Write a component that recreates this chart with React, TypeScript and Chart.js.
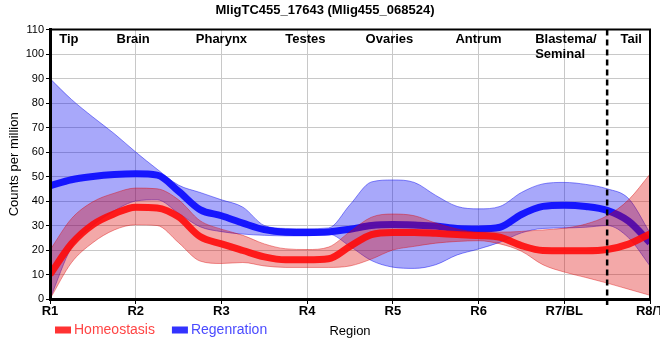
import React, { useEffect, useRef } from 'react';
import { Chart, registerables } from 'chart.js';

Chart.register(...registerables);

const FONT = '"Liberation Sans", Arial, sans-serif';

const chartTitle = 'MligTC455_17643 (Mlig455_068524)';
const xTickLabels = ['R1', 'R2', 'R3', 'R4', 'R5', 'R6', 'R7/BL', 'R8/T'];
const yAxisTitle = 'Counts per million';
const xAxisTitle = 'Region';

// positions along the body (0 = R1 ... 7 = R8/T) where values were read
const samplePositions = [0, 0.25, 0.5, 0.75, 1, 1.25, 1.5, 1.75, 2, 2.25, 2.5, 2.75, 3, 3.25, 3.5, 3.75, 4, 4.25, 4.5, 4.75, 5, 5.25, 5.5, 5.75, 6, 6.25, 6.5, 6.75, 7];

const homeoMean = [10, 22.5, 30.4, 34.8, 37.5, 37.2, 33.5, 25.5, 22.5, 19.8, 17.2, 16, 16, 16.4, 21.5, 26.3, 27.2, 27.2, 26.8, 26.3, 25.9, 25.2, 21.8, 19.8, 19.7, 19.7, 20.2, 22.4, 26.6];
const homeoUpper = [20, 32.8, 39.7, 43.2, 45.3, 45, 40.5, 32, 28.5, 26, 22.5, 20.5, 20.2, 21.2, 27.5, 33.4, 34.7, 34, 31, 28.6, 27.3, 27.3, 27.6, 28.2, 28.9, 30.6, 34, 40.5, 51];
const homeoLower = [0, 14.8, 23, 28.2, 30.3, 30, 23, 15.5, 14.5, 14.9, 13.5, 12.9, 12.9, 12.9, 13.5, 16.3, 20, 21.5, 22.8, 23.5, 23.8, 22.5, 19.5, 14, 11, 8.8, 6.5, 4, 1.5];

const regenMean = [46.2, 48.7, 50.0, 50.8, 51.1, 50.6, 44.0, 36.5, 34.0, 31.0, 28.3, 27.3, 27.2, 27.4, 28.5, 30.0, 30.4, 30.2, 29.8, 28.8, 28.6, 29.3, 34.5, 37.8, 38.3, 37.8, 36.2, 31.8, 23.0];
const regenUpper = [90, 81.5, 74.3, 67.5, 60, 53, 46.5, 43.5, 40.5, 37.5, 30, 28.8, 28.7, 29, 38.5, 47.8, 48.6, 47.6, 42.3, 37.8, 36.8, 37.8, 43.5, 47, 47.6, 46.8, 45, 41, 27];
const regenLower = [0, 21, 30, 36, 40, 40.5, 35, 29.5, 27.5, 26.5, 26, 25.8, 25.8, 26.5, 21.5, 15.7, 13, 12.5, 14, 18, 20.4, 23.2, 27, 28.8, 29, 29.3, 30, 25, 13.5];

const regionNames = ['Tip', 'Brain', 'Pharynx', 'Testes', 'Ovaries', 'Antrum', 'Blastema/\nSeminal', 'Tail'];
const regionAnchors = [0.22, 0.97, 2.0, 2.98, 3.96, 5.0, 5.66, 6.78];
const tailBoundary = 6.5;

const legendItems = [
  { label: 'Homeostasis', box: '#ff3333', text: '#ff4545' },
  { label: 'Regenration', box: '#3333ff', text: '#4a4aff' },
];

const pts = (arr: number[]) => samplePositions.map((x, i) => ({ x, y: arr[i] }));

const overlayPlugin = {
  id: 'overlay',
  afterDatasetsDraw(chart: any) {
    const { ctx, chartArea: a, scales } = chart;
    const x = scales.x;
    ctx.save();
    ctx.strokeStyle = '#000';
    ctx.lineWidth = 2;
    ctx.beginPath();
    ctx.moveTo(a.left, a.top);
    ctx.lineTo(a.right, a.top);
    ctx.lineTo(a.right, a.bottom);
    ctx.stroke();

    const xd = x.getPixelForValue(tailBoundary);
    ctx.setLineDash([6, 4]);
    ctx.lineWidth = 2.5;
    ctx.beginPath();
    ctx.moveTo(xd, a.top);
    ctx.lineTo(xd, a.bottom + 6);
    ctx.stroke();
    ctx.setLineDash([]);

    ctx.font = `bold 13px ${FONT}`;
    ctx.fillStyle = '#000';
    ctx.textBaseline = 'middle';
    regionNames.forEach((name, i) => {
      const lines = name.split('\n');
      const px = x.getPixelForValue(regionAnchors[i]);
      ctx.textAlign = lines.length > 1 ? 'left' : 'center';
      lines.forEach((ln, j) => ctx.fillText(ln, px, a.top + 10 + j * 15));
    });
    ctx.restore();
  },
  afterDraw(chart: any) {
    const { ctx, chartArea: a } = chart;
    ctx.save();
    ctx.font = `14px ${FONT}`;
    ctx.textAlign = 'left';
    ctx.textBaseline = 'middle';
    let lx = a.left + 5;
    const ly = a.bottom + 31;
    legendItems.forEach((it) => {
      ctx.fillStyle = it.box;
      ctx.fillRect(lx, ly - 3.5, 16, 7);
      ctx.fillStyle = it.text;
      ctx.fillText(it.label, lx + 19, ly);
      lx += 19 + ctx.measureText(it.label).width + 17;
    });
    ctx.restore();
  },
};

export default function App() {
  const ref = useRef<HTMLCanvasElement | null>(null);

  useEffect(() => {
    document.body.style.margin = '0';
    if (!ref.current) return;
    const common = { pointRadius: 0, pointHoverRadius: 0, cubicInterpolationMode: 'monotone' as const };
    const chart = new Chart(ref.current, {
      type: 'line',
      data: {
        datasets: [
          { ...common, label: 'Regen lower', data: pts(regenLower), borderColor: 'rgba(0,0,240,0.45)', borderWidth: 1, backgroundColor: 'rgba(0,0,240,0.34)', fill: false, order: 6 },
          { ...common, label: 'Regen upper', data: pts(regenUpper), borderColor: 'rgba(0,0,240,0.45)', borderWidth: 1, backgroundColor: 'rgba(0,0,240,0.34)', fill: 0, order: 5 },
          { ...common, label: 'Regenration', data: pts(regenMean), borderColor: 'rgba(10,10,255,0.92)', borderWidth: 7, fill: false, order: 4 },
          { ...common, label: 'Homeo lower', data: pts(homeoLower), borderColor: 'rgba(220,0,0,0.4)', borderWidth: 1, backgroundColor: 'rgba(220,0,0,0.34)', fill: false, order: 3 },
          { ...common, label: 'Homeo upper', data: pts(homeoUpper), borderColor: 'rgba(220,0,0,0.4)', borderWidth: 1, backgroundColor: 'rgba(220,0,0,0.34)', fill: 3, order: 2 },
          { ...common, label: 'Homeostasis', data: pts(homeoMean), borderColor: 'rgba(255,10,10,0.9)', borderWidth: 7, fill: false, order: 1 },
        ],
      },
      options: {
        animation: false,
        responsive: false,
        maintainAspectRatio: false,
        layout: { padding: { left: 0, right: 10, top: 0, bottom: 0 } },
        plugins: {
          legend: { display: false },
          tooltip: { enabled: false },
          title: {
            display: true,
            text: chartTitle,
            color: '#000',
            font: { family: FONT, size: 13, weight: 'bold' },
            padding: { top: 3, bottom: 11 },
          },
        },
        scales: {
          x: {
            type: 'linear',
            min: 0,
            max: 7,
            afterFit: (s: any) => {
              s.height = 61;
              s.paddingLeft = 0;
              s.paddingRight = 0;
            },
            ticks: {
              stepSize: 1,
              autoSkip: false,
              maxRotation: 0,
              padding: 0,
              color: '#000',
              font: { family: FONT, size: 13, weight: 'bold' },
              callback: (v: any) => xTickLabels[v] ?? '',
            },
            grid: { color: '#c8c8c8', tickColor: '#000', tickLength: 5, lineWidth: 1 },
            border: { color: '#000', width: 3, z: 1 },
            title: {
              display: true,
              text: xAxisTitle,
              color: '#000',
              font: { family: FONT, size: 13 },
              padding: { top: 0, bottom: 21 },
            },
          },
          y: {
            min: 0,
            max: 110,
            afterFit: (s: any) => {
              s.width = 50;
            },
            ticks: {
              stepSize: 10,
              padding: 2,
              color: '#000',
              font: { family: FONT, size: 11 },
            },
            grid: { color: '#c8c8c8', tickColor: '#000', tickLength: 4, lineWidth: 1 },
            border: { color: '#000', width: 3, z: 1 },
            title: {
              display: true,
              text: yAxisTitle,
              color: '#000',
              font: { family: FONT, size: 13 },
              padding: { top: 7, bottom: 0 },
            },
          },
        },
      },
      plugins: [overlayPlugin],
    } as any);
    return () => chart.destroy();
  }, []);

  return (
    <div style={{ width: 660, height: 360 }}>
      <canvas ref={ref} width={660} height={360} />
    </div>
  );
}
